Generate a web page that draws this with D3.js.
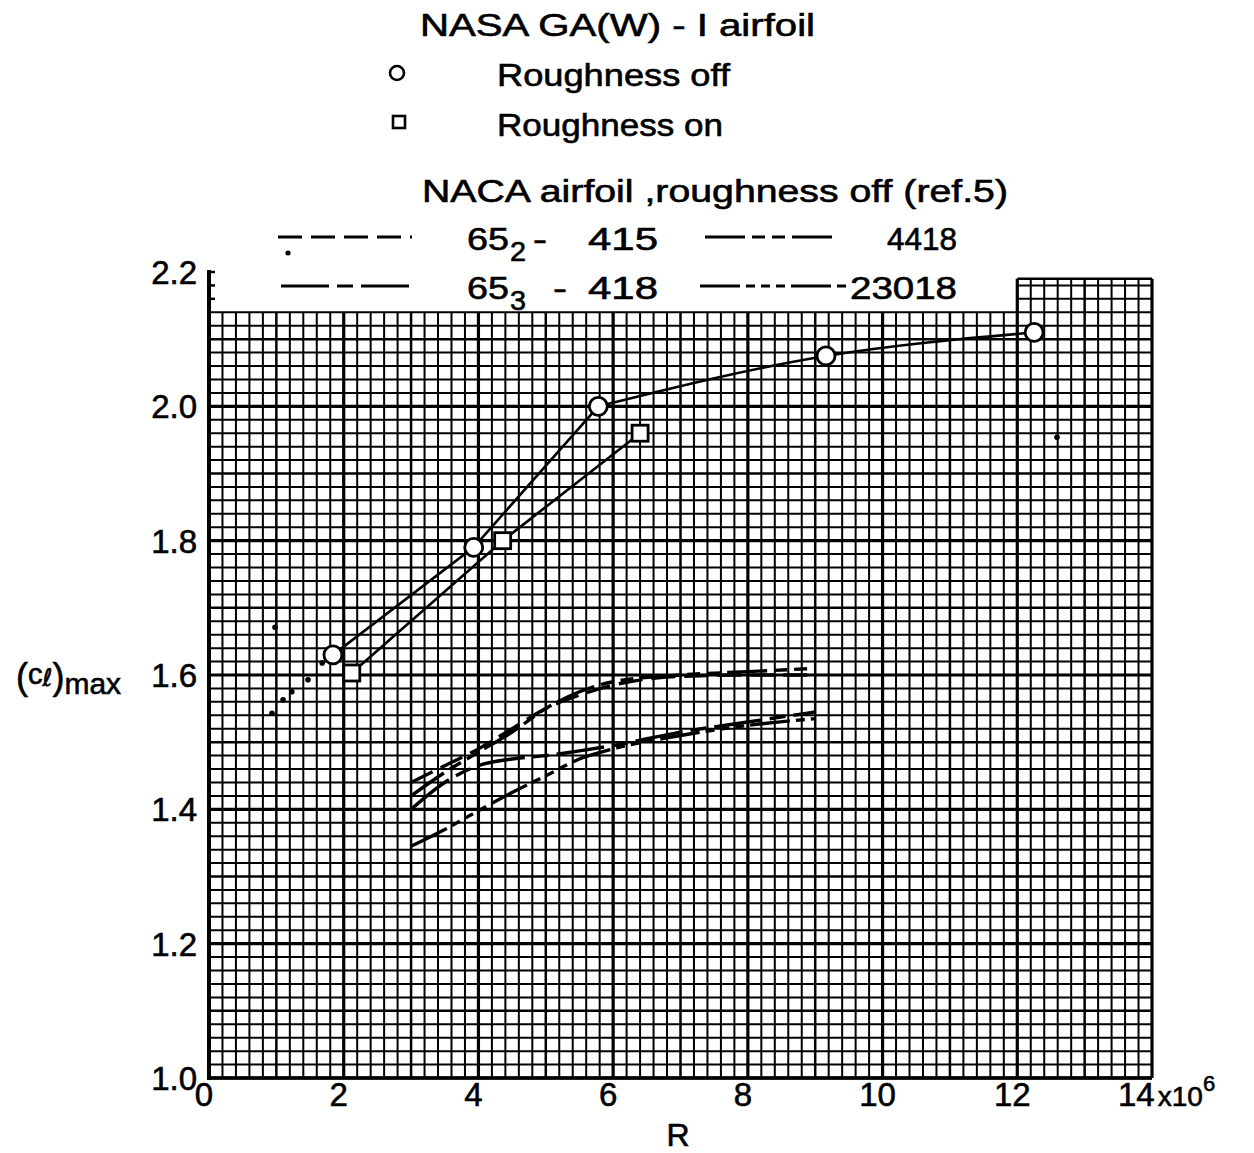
<!DOCTYPE html>
<html>
<head>
<meta charset="utf-8">
<script src="https://cdn.jsdelivr.net/npm/d3@7"></script>
<style>
  body { margin: 0; background: #fff; }
  text { font-family: "Liberation Sans", Arial, sans-serif; fill: #000; stroke: #000; stroke-width: 0.6; }
</style>
</head>
<body>
<svg id="chart" width="1254" height="1153"></svg>
<script>
// NASA GA(W)-1 airfoil, roughness off (circles) and on (squares)
var offR  = [1.84, 3.93, 5.78, 9.16, 12.25];
var offCl = [1.63, 1.79, 2.0, 2.075, 2.11];
var onR   = [2.12, 4.36, 6.40];
var onCl  = [1.603, 1.80, 1.96];

// dotted lead-in and loose specks on the sheet
var dotR  = [0.935, 1.10, 1.23, 1.47, 1.68, 0.98, 12.59];
var dotCl = [1.543, 1.563, 1.575, 1.593, 1.618, 1.671, 1.954];

// NACA airfoils, roughness off (ref. 5)
var nacaR     = [3, 3.5, 4, 4.5, 5, 5.5, 6, 7, 8, 9];
var naca652   = [1.44, 1.465, 1.49, 1.52, 1.55, 1.57, 1.585, 1.598, 1.60, 1.60];
var naca4418  = [1.42, 1.455, 1.485, 1.515, 1.55, 1.575, 1.59, 1.60, 1.605, 1.61];
var naca653   = [1.40, 1.44, 1.465, 1.475, 1.48, 1.487, 1.495, 1.515, 1.53, 1.545];
var naca23018 = [1.345, 1.37, 1.398, 1.425, 1.45, 1.475, 1.49, 1.51, 1.525, 1.535];

var xTicks = [0, 2, 4, 6, 8, 10, 12, 14];
var yTicks = [1.0, 1.2, 1.4, 1.6, 1.8, 2.0, 2.2];

var svg = d3.select("#chart");

// set the ranges
var x = d3.scaleLinear().domain([0, 14]).range([209, 1152]);
var y = d3.scaleLinear().domain([1.0, 2.2]).range([1078, 272]);

// graph paper grid
function gw(i) { return i % 10 == 0 ? 3.2 : (i % 5 == 0 ? 2.5 : 2.0); }
var grid = svg.append("g");
var gridTop = 2.14, blockTop = 2.19;
d3.range(0, 70.5, 1).forEach(function (i) {
  var v = i / 5;
  grid.append("line")
    .attr("x1", x(v)).attr("x2", x(v))
    .attr("y1", y(1.0)).attr("y2", y(v >= 11.99 ? blockTop : gridTop))
    .attr("stroke", "#000")
    .attr("stroke-width", gw(i));
});
d3.range(0, 60, 1).forEach(function (i) {
  var v = 1 + i / 50;
  if (v > blockTop + 1e-6) return;
  grid.append("line")
    .attr("x1", v > gridTop + 1e-6 ? x(12) : x(0)).attr("x2", x(14))
    .attr("y1", y(v)).attr("y2", y(v))
    .attr("stroke", "#000")
    .attr("stroke-width", gw(i));
});
grid.append("line")
  .attr("x1", x(12)).attr("x2", x(14))
  .attr("y1", y(blockTop)).attr("y2", y(blockTop))
  .attr("stroke", "#000").attr("stroke-width", 2.4);

// axes
svg.append("line")
  .attr("x1", x(0)).attr("x2", x(0))
  .attr("y1", y(1.0) + 2).attr("y2", y(2.2) - 2)
  .attr("stroke", "#000").attr("stroke-width", 4);
svg.append("line")
  .attr("x1", x(0) - 2).attr("x2", x(14))
  .attr("y1", y(1.0)).attr("y2", y(1.0))
  .attr("stroke", "#000").attr("stroke-width", 3.5);
[2.16, 2.18, 2.2].forEach(function (v) {
  svg.append("line")
    .attr("x1", x(0)).attr("x2", x(0) + 6)
    .attr("y1", y(v)).attr("y2", y(v))
    .attr("stroke", "#000").attr("stroke-width", 2.5);
});

// tick labels
svg.selectAll(".ylab").data(yTicks).enter().append("text")
  .attr("x", 197).attr("y", function (d) { return y(d) + 12; })
  .attr("text-anchor", "end").attr("font-size", 33)
  .text(function (d) { return d.toFixed(1); });

svg.selectAll(".xlab").data(xTicks.slice(0, 7)).enter().append("text")
  .attr("x", function (d) { return x(d) - 5; }).attr("y", 1106)
  .attr("text-anchor", "middle").attr("font-size", 33)
  .text(function (d) { return d; });
var last = svg.append("text").attr("x", x(14) - 34).attr("y", 1106).attr("font-size", 33);
last.append("tspan").text("14");
last.append("tspan").attr("font-size", 28).attr("dx", 3).text("x10");
last.append("tspan").attr("font-size", 22).attr("dy", -15).text("6");

svg.append("text").attr("x", 678).attr("y", 1146)
  .attr("text-anchor", "middle").attr("font-size", 32).text("R");

var ylab = svg.append("text").attr("x", 16).attr("y", 689).attr("font-size", 36);
ylab.append("tspan").text("(");
ylab.append("tspan").attr("font-size", 29).attr("dy", -5).text("c");
ylab.append("tspan").attr("font-size", 24).attr("font-family", "DejaVu Sans").attr("dy", 2).text("ℓ");
ylab.append("tspan").attr("font-size", 36).attr("dy", 3).text(")");
ylab.append("tspan").attr("font-size", 30).attr("dy", 5).text("max");

// NACA curves
var nacaLine = d3.line()
  .x(function (d) { return x(d[0]); })
  .y(function (d) { return y(d[1]); })
  .curve(d3.curveMonotoneX);

var nacaSeries = [
  { vals: naca652,   dash: "24,9" },
  { vals: naca4418,  dash: "40,7,13,7,13,7" },
  { vals: naca653,   dash: "48,8,16,8" },
  { vals: naca23018, dash: "40,6,9,6,9,6,9,6" }
];
nacaSeries.forEach(function (s) {
  svg.append("path")
    .datum(d3.zip(nacaR, s.vals))
    .attr("d", nacaLine)
    .attr("fill", "none")
    .attr("stroke", "#000")
    .attr("stroke-width", 3.4)
    .attr("stroke-dasharray", s.dash);
});

// GA(W)-1 lines: straight at low R, faired curve above
var straight = d3.line()
  .x(function (d) { return x(d[0]); })
  .y(function (d) { return y(d[1]); });
var faired = d3.line()
  .x(function (d) { return x(d[0]); })
  .y(function (d) { return y(d[1]); })
  .curve(d3.curveMonotoneX);

var offPts = d3.zip(offR, offCl);
svg.append("path").datum(offPts.slice(0, 3)).attr("d", straight)
  .attr("fill", "none").attr("stroke", "#000").attr("stroke-width", 2.6);
svg.append("path").datum(offPts.slice(2)).attr("d", faired)
  .attr("fill", "none").attr("stroke", "#000").attr("stroke-width", 2.6);
svg.append("path").datum(d3.zip(onR, onCl)).attr("d", straight)
  .attr("fill", "none").attr("stroke", "#000").attr("stroke-width", 2.6);

svg.selectAll(".off").data(offPts).enter().append("circle")
  .attr("cx", function (d) { return x(d[0]); })
  .attr("cy", function (d) { return y(d[1]); })
  .attr("r", 9)
  .attr("fill", "#fff").attr("stroke", "#000").attr("stroke-width", 2.8);

svg.selectAll(".on").data(d3.zip(onR, onCl)).enter().append("rect")
  .attr("x", function (d) { return x(d[0]) - 8; })
  .attr("y", function (d) { return y(d[1]) - 8; })
  .attr("width", 16).attr("height", 16)
  .attr("fill", "#fff").attr("stroke", "#000").attr("stroke-width", 2.8);

svg.selectAll(".dot").data(d3.zip(dotR, dotCl)).enter().append("circle")
  .attr("cx", function (d) { return x(d[0]); })
  .attr("cy", function (d) { return y(d[1]); })
  .attr("r", 2.8).attr("fill", "#000");

// legend
var lg = svg.append("g");
function label(txt, x0, yb, w, fs) {
  return lg.append("text").attr("x", x0).attr("y", yb).attr("font-size", fs || 31)
    .attr("textLength", w).attr("lengthAdjust", "spacingAndGlyphs").text(txt);
}
label("NASA  GA(W) - I  airfoil", 420, 36, 395);
lg.append("circle").attr("cx", 397).attr("cy", 73).attr("r", 7)
  .attr("fill", "none").attr("stroke", "#000").attr("stroke-width", 2.6);
label("Roughness  off", 497, 86, 233);
lg.append("rect").attr("x", 393).attr("y", 116).attr("width", 12).attr("height", 12)
  .attr("fill", "none").attr("stroke", "#000").attr("stroke-width", 2.6);
label("Roughness  on", 497, 136, 226);
label("NACA  airfoil  ,roughness  off (ref.5)", 422, 202, 586);

var rows = [
  { y: 237, x1: 278, x2: 412, dash: "24,9", sub: "2", dashX: 533, rest: "415", restX: 588, restW: 70,
    lx1: 705, lx2: 832, ldash: "40,7,13,7,13,7", name2: "4418", n2x: 887, n2w: 70 },
  { y: 286, x1: 281, x2: 412, dash: "48,8,16,8", sub: "3", dashX: 553, rest: "418", restX: 588, restW: 70,
    lx1: 700, lx2: 848, ldash: "40,6,9,6,9,6,9,6", name2: "23018", n2x: 850, n2w: 107 }
];
rows.forEach(function (r) {
  lg.append("line").attr("x1", r.x1).attr("x2", r.x2).attr("y1", r.y).attr("y2", r.y)
    .attr("stroke", "#000").attr("stroke-width", 3.2).attr("stroke-dasharray", r.dash);
  label("65", 467, r.y + 13, 42);
  label(r.sub, 510, r.y + 24, 16, 28);
  label("-", r.dashX, r.y + 13, 14);
  label(r.rest, r.restX, r.y + 13, r.restW);
  lg.append("line").attr("x1", r.lx1).attr("x2", r.lx2).attr("y1", r.y).attr("y2", r.y)
    .attr("stroke", "#000").attr("stroke-width", 3.2).attr("stroke-dasharray", r.ldash);
  label(r.name2, r.n2x, r.y + 13, r.n2w);
});
lg.append("circle").attr("cx", 288).attr("cy", 253).attr("r", 2.6).attr("fill", "#000");
</script>
</body>
</html>
